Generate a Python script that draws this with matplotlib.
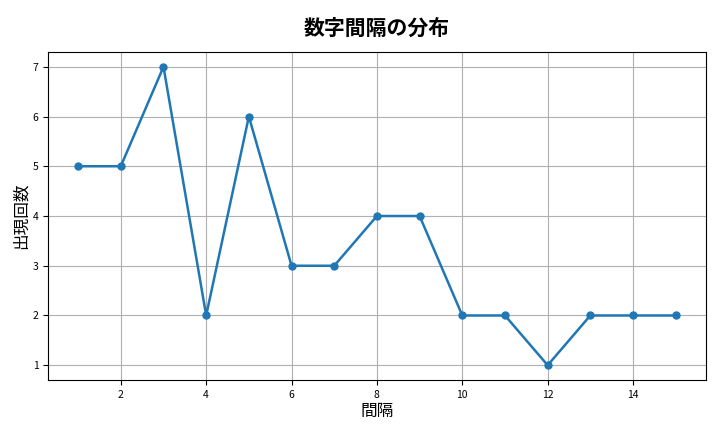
import matplotlib
matplotlib.use("Agg")
import matplotlib.pyplot as plt

plt.rcParams['font.family'] = ['Noto Sans CJK JP', 'DejaVu Sans']

intervals = list(range(1, 16))
counts = [5, 5, 7, 2, 6, 3, 3, 4, 4, 2, 2, 1, 2, 2, 2]

fig, ax = plt.subplots(figsize=(7.2, 4.32), dpi=100)
ax.plot(intervals, counts, marker='o', color='#1f77b4', linewidth=1.8, markersize=5)
ax.set_title('数字間隔の分布', fontsize=15, fontweight='bold', pad=12)
ax.set_xlabel('間隔', fontsize=12, labelpad=2)
ax.set_ylabel('出現回数', fontsize=12, labelpad=2)
ax.tick_params(labelsize=7.5)
ax.grid(True, color='#b0b0b0', linewidth=0.8)
fig.subplots_adjust(left=0.067, right=0.98, top=0.88, bottom=0.12)
fig.savefig('out.png')
